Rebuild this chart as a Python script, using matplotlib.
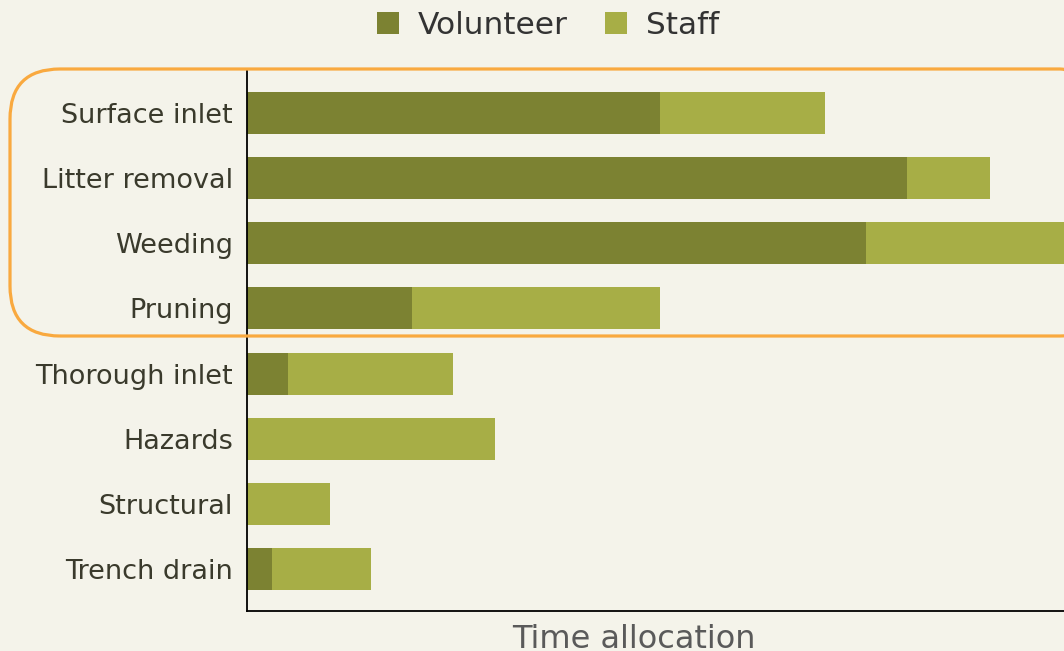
import matplotlib.pyplot as plt
from matplotlib.patches import FancyBboxPatch

categories = ["Surface inlet", "Litter removal", "Weeding", "Pruning",
              "Thorough inlet", "Hazards", "Structural", "Trench drain"]
volunteer = [10, 16, 15, 4, 1, 0, 0, 0.6]
staff = [4, 2, 6, 6, 4, 6, 2, 2.4]

bg = "#f4f3ea"
c_vol = "#7c8232"
c_staff = "#a7ae46"

fig = plt.figure(figsize=(10.64, 6.51), dpi=100, facecolor=bg)
ax = fig.add_axes([247 / 1064, 40 / 651, 817 / 1064, 540 / 651])
ax.set_facecolor(bg)

ypos = list(range(len(categories)))
ax.barh(ypos, volunteer, height=0.645, color=c_vol, label="Volunteer")
ax.barh(ypos, staff, left=volunteer, height=0.645, color=c_staff, label="Staff")

ax.set_xlim(0, 817 / 41.25)
ax.set_ylim(len(categories) - 1 + 0.645, -0.645)
ax.set_yticks(ypos)
ax.set_yticklabels(categories, fontsize=19.5, color="#3a3a2c")
ax.tick_params(axis="y", length=0, pad=10)
ax.set_xticks([])
for s in ["top", "right"]:
    ax.spines[s].set_visible(False)
for s in ["left", "bottom"]:
    ax.spines[s].set_color("black")
    ax.spines[s].set_linewidth(1.3)

fig.text(634 / 1064, 1 - 640 / 651, "Time allocation", fontsize=23,
         color="#5a5a5a", ha="center", va="center")

fig.legend(loc="center", bbox_to_anchor=(548 / 1064, 1 - 25 / 651), ncol=2,
           frameon=False, fontsize=22.5, handlelength=0.7, handleheight=0.7,
           handletextpad=0.6, columnspacing=1.2, labelcolor="#333333")

# orange rounded highlight box around the first four rows
box = FancyBboxPatch((0.10, 3.15), 11.0, 2.67,
                     boxstyle="round,pad=0,rounding_size=0.5",
                     transform=fig.dpi_scale_trans, fill=False,
                     edgecolor="#f9a93f", linewidth=2.3, clip_on=False)
fig.add_artist(box)

fig.savefig("out.png", dpi=100, facecolor=bg)
